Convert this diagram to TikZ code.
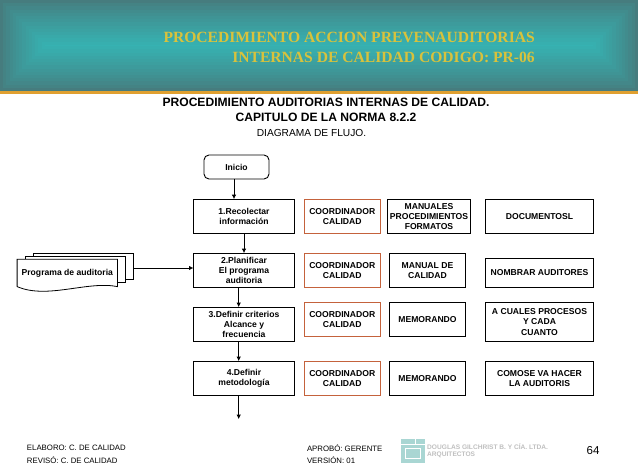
\documentclass[tikz,border=0pt]{standalone}
\usepackage{xcolor}
\usepackage{fontspec}
\setmainfont{Liberation Sans}
\newfontfamily\titlefont{Liberation Serif}
\usetikzlibrary{arrows.meta,positioning}

\definecolor{bannerdark}{HTML}{467C7E}
\definecolor{bannerlight}{HTML}{36B2B2}
\definecolor{stripe}{HTML}{E0A030}
\definecolor{titlegold}{HTML}{D8C23C}
\definecolor{roleedge}{HTML}{C4623C}
\definecolor{logoteal}{HTML}{A9D6D3}

\begin{document}
\begin{tikzpicture}[
    x=1pt, y=-1pt,
    box/.style={draw, rectangle, align=center, inner sep=0pt, outer sep=0pt, line width=0.9pt, font=\fontsize{8.6}{10.1}\selectfont\bfseries},
    stepbox/.style={box, minimum width=101pt, minimum height=34pt},
    rolebox/.style={box, draw=roleedge, minimum width=75.5pt, minimum height=34pt},
    docbox/.style={box, minimum width=76.4pt, minimum height=34pt},
    taskbox/.style={box, minimum width=108.4pt, minimum height=34pt},
    page/.style={draw, fill=white, line width=0.8pt, inner sep=0pt, outer sep=0pt, minimum width=100.4pt, minimum height=26.2pt},
    flow/.style={line width=0.9pt, -{Latex[length=4.5pt,width=4.5pt]}},
    foot/.style={font=\fontsize{7.8}{10}\selectfont, inner sep=0pt, outer sep=0pt, anchor=west}
  ]
    \useasboundingbox (0,0) rectangle (638,468);
    % banner
    \fill[bannerdark] (0,0) rectangle (638,91);
    \foreach \i in {1,...,14}{
      \pgfmathsetmacro{\mixval}{100*(\i/14)^0.8}
      \fill[bannerlight!\mixval!bannerdark] (3.2*\i,3.2*\i) rectangle (638-3.2*\i,91-3.2*\i);
    }
    \fill[stripe] (0,91) rectangle (638,94);
    \node[font=\fontsize{15.6}{20}\selectfont\titlefont\bfseries, text=titlegold, align=right, inner sep=0pt, anchor=east] (title) at (535,47) {PROCEDIMIENTO ACCION PREVENAUDITORIAS\\INTERNAS DE CALIDAD CODIGO: PR-06};
    \node[font=\fontsize{12.1}{15}\selectfont\bfseries, align=center, inner sep=0pt] (heading) at (326,110) {PROCEDIMIENTO AUDITORIAS INTERNAS DE CALIDAD.\\CAPITULO DE LA NORMA 8.2.2};
    \node[font=\fontsize{10.2}{12}\selectfont, inner sep=0pt] (subheading) at (311.5,133) {DIAGRAMA DE FLUJO.};

    % main column
    \node[box, rounded corners=5pt, minimum width=65pt, minimum height=24pt] (inicio) at (236.5,167) {Inicio};
    \node[stepbox] (recolectar) at (244,216.2) {1.Recolectar\\información};
    \node[stepbox, below=20pt of recolectar] (planificar) {2.Planificar\\El programa\\auditoria};
    \node[stepbox, below=20pt of planificar] (criterios) {3.Definir criterios\\Alcance y\\frecuencia};
    \node[stepbox, below=20pt of criterios] (metodologia) {4.Definir\\metodología};
    \coordinate[below=24pt of metodologia] (fin);

    % responsible
    \node[rolebox, right=10pt of recolectar] (role1) {COORDINADOR\\CALIDAD};
    \node[rolebox, right=10pt of planificar] (role2) {COORDINADOR\\CALIDAD};
    \node[rolebox, right=10pt of criterios, yshift=5pt] (role3) {COORDINADOR\\CALIDAD};
    \node[rolebox, right=10pt of metodologia] (role4) {COORDINADOR\\CALIDAD};

    % documents
    \node[docbox, minimum width=83.4pt, right=7.3pt of role1] (doc1) {MANUALES\\PROCEDIMIENTOS\\FORMATOS};
    \node[docbox, right=9.3pt of role2] (doc2) {MANUAL DE\\CALIDAD};
    \node[docbox, right=9.3pt of role3] (doc3) {MEMORANDO};
    \node[docbox, right=9.3pt of role4] (doc4) {MEMORANDO};

    % tasks
    \node[taskbox, right=14.6pt of doc1] (task1) {DOCUMENTOSL};
    \node[taskbox, minimum height=29pt, right=19.6pt of doc2, yshift=-2.6pt] (task2) {NOMBRAR AUDITORES};
    \node[taskbox, minimum height=39.4pt, right=19.6pt of doc3, yshift=-2.8pt] (task3) {A CUALES PROCESOS\\Y CADA\\CUANTO};
    \node[taskbox, right=19.6pt of doc4] (task4) {COMOSE VA HACER\\LA AUDITORIS};

    % stacked pages
    \node[page] (pageback) at (83.3,266.3) {};
    \node[page, below left=-23.2pt and -92.4pt of pageback] (pagemid) {};
    \node[fill=white, inner sep=0pt, outer sep=0pt, minimum width=100.4pt, minimum height=27.4pt, font=\fontsize{8.6}{11}\selectfont\bfseries, below left=-23.2pt and -92.4pt of pagemid] (front) {Programa de auditoria};
    \draw[line width=0.8pt] (front.south west) -- (front.north west) -- (front.north east) -- (front.south east)
      .. controls +(-30,-6) and +(30,13) .. (front.south west);
    \coordinate (pageout) at ([yshift=-1.7pt]pageback.east);

    \draw[flow] ([xshift=-2.5pt]inicio.south) -- ([xshift=-10pt]recolectar.north);
    \draw[flow] (recolectar) -- (planificar);
    \draw[flow] ([xshift=-5.3pt]planificar.south) -- ([xshift=-5.3pt]criterios.north);
    \draw[flow] ([xshift=-5.3pt]criterios.south) -- ([xshift=-5.3pt]metodologia.north);
    \draw[flow] ([xshift=-5.3pt]metodologia.south) -- ([xshift=-5.3pt]fin);
    \draw[flow] (pageout) -- (pageout -| planificar.west);

    % footer
    \node[foot] (elaboro) at (27,448) {ELABORO: C. DE CALIDAD};
    \node[foot] (reviso) at (27,460) {REVISÓ: C. DE CALIDAD};
    \node[foot] (aprobo) at (307,448) {APROBÓ: GERENTE};
    \node[foot] (version) at (307,460) {VERSIÓN: 01};
    \node[fill=logoteal, minimum width=24pt, minimum height=24pt, inner sep=0pt, outer sep=0pt] (logo) at (413,451) {};
    \draw[white, line width=0.8pt] ([yshift=-5pt]logo.north west) -- ([yshift=-5pt]logo.north east)
      ([xshift=14pt]logo.north west) -- ([xshift=14pt,yshift=-5pt]logo.north west)
      ([xshift=4pt,yshift=-9pt]logo.north west) rectangle ([xshift=-5pt,yshift=5pt]logo.south east);
    \node[font=\fontsize{6.6}{7}\selectfont\bfseries, text=black!25, align=left, inner sep=0pt, anchor=north west] (firma) at (427,443) {DOUGLAS GILCHRIST B. Y CÍA. LTDA.\\ARQUITECTOS};
    \node[font=\fontsize{11.5}{13}\selectfont, inner sep=0pt] (pagenum) at (593,451) {64};
  \end{tikzpicture}
\end{document}
